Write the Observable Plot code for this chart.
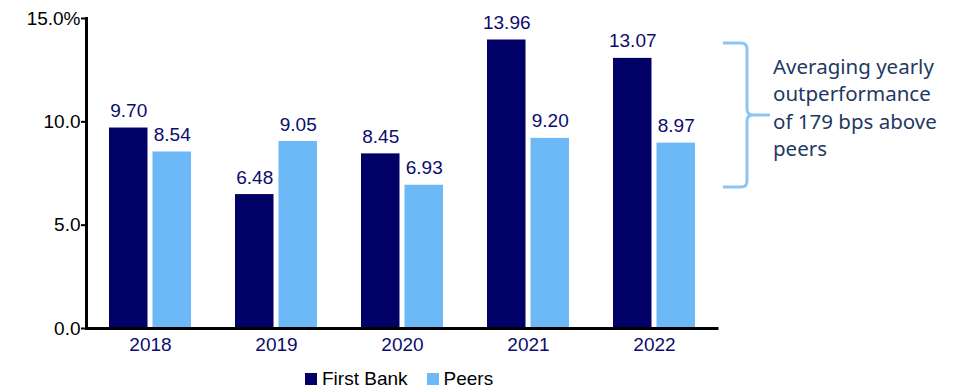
<!DOCTYPE html>
<html>
<head>
<meta charset="utf-8">
<script src="https://cdn.jsdelivr.net/npm/d3@7"></script>
<script src="https://cdn.jsdelivr.net/npm/@observablehq/plot@0.6"></script>
<style>
  html, body { margin: 0; padding: 0; background: #fff; }
  #wrap { position: relative; width: 955px; height: 390px; font-family: "Liberation Sans", Arial, sans-serif; }
  #chart svg, #chart svg text { font-family: "Liberation Sans", Arial, sans-serif !important; }
  #legend { position: absolute; left: 305px; top: 368px; display: flex; align-items: center; font-size: 19px; color: #000; line-height: 22px; }
  #legend .sw { width: 12px; height: 12px; display: inline-block; margin-right: 5px; }
  #legend .item { display: flex; align-items: center; margin-right: 19px; }
  #note { position: absolute; left: 773px; top: 53px; font-family: "Noto Sans", sans-serif; font-size: 20.5px; line-height: 27.3px; color: #1f3864; white-space: nowrap; }
  #brace { position: absolute; left: 0; top: 0; }
</style>
</head>
<body>
<div id="wrap">
  <div id="chart"></div>
  <svg id="brace" width="955" height="390">
    <path d="M723,43 L741,43 Q747,43 747,49 L747,109 Q747,115 753,115 L770,115 M753,115 Q747,115 747,121 L747,181 Q747,187 741,187 L723,187"
          fill="none" stroke="#8ec6f3" stroke-width="3"/>
  </svg>
  <div id="note">Averaging yearly<br>outperformance<br>of 179 bps above<br>peers</div>
  <div id="legend"></div>
</div>
<script>
const years = ["2018", "2019", "2020", "2021", "2022"];
const firstBank = [9.70, 6.48, 8.45, 13.96, 13.07];
const peers = [8.54, 9.05, 6.93, 9.20, 8.97];
const seriesNames = ["First Bank", "Peers"];
const seriesColors = ["#000066", "#6db8f6"];
const yTicks = [0, 5, 10, 15];

const fb = years.map((year, i) => ({year, value: firstBank[i]}));
const pr = years.map((year, i) => ({year, value: peers[i]}));

const labelColor = "#0c0c6e";
const fmt = d => d.toFixed(2);

const chart = Plot.plot({
  width: 955,
  height: 360,
  marginLeft: 86,
  marginRight: 236.5,
  marginTop: 18,
  marginBottom: 32,
  style: {fontFamily: "Liberation Sans, Arial, sans-serif", fontSize: "19px", background: "white"},
  x: {domain: years, padding: 0, label: null},
  y: {domain: [0, 15], label: null},
  marks: [
    Plot.barY(fb, {x: "year", y: "value", fill: seriesColors[0], insetLeft: 22, insetRight: 65.5}),
    Plot.barY(pr, {x: "year", y: "value", fill: seriesColors[1], insetLeft: 65.5, insetRight: 22}),
    Plot.text(fb, {x: "year", y: "value", text: d => fmt(d.value), dx: -21.75, dy: -17, fill: labelColor, fontSize: 19}),
    Plot.text(pr, {x: "year", y: "value", text: d => fmt(d.value), dx: 21.75, dy: -17, fill: labelColor, fontSize: 19}),
    Plot.axisY({ticks: yTicks, tickFormat: d => d === 15 ? "15.0%" : d.toFixed(1), tickSize: 5, tickPadding: 1, strokeWidth: 2, fill: "#000", fontSize: 19, label: null}),
    Plot.axisX({tickSize: 0, tickPadding: 9, fill: labelColor, fontSize: 19, label: null}),
    Plot.frame({anchor: "left", strokeWidth: 3, stroke: "#000"}),
    Plot.ruleY([0], {strokeWidth: 3, stroke: "#000"})
  ]
});
document.getElementById("chart").appendChild(chart);

const legend = document.getElementById("legend");
seriesNames.forEach((name, i) => {
  const item = document.createElement("div");
  item.className = "item";
  const sw = document.createElement("span");
  sw.className = "sw";
  sw.style.background = seriesColors[i];
  const tx = document.createElement("span");
  tx.textContent = name;
  item.appendChild(sw);
  item.appendChild(tx);
  legend.appendChild(item);
});
</script>
</body>
</html>
